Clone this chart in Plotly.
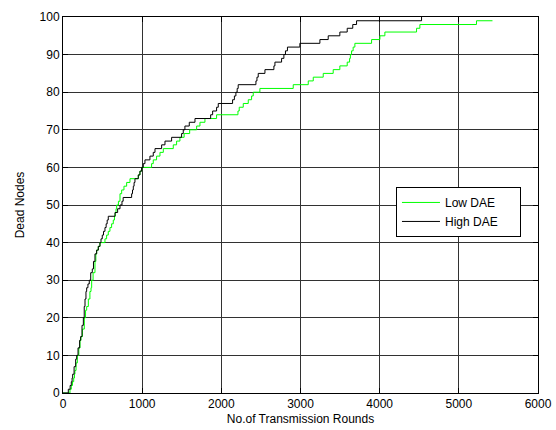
import plotly.graph_objects as go

# High DAE (black) step change points: rounds, dead nodes
high_rounds = [0, 67, 90, 105, 115, 122, 140, 160, 173, 190, 210, 223, 240, 257, 268, 278, 290, 299, 315, 332,
               350, 370, 385, 404, 425, 446, 467, 480, 496, 512, 530, 545, 558, 572, 657, 690, 720, 745, 760, 867,
               878, 888, 898, 909, 951, 972, 993, 1014, 1035, 1098, 1140, 1162, 1246, 1288, 1372, 1498, 1519, 1540,
               1595, 1667, 1865, 1890, 1940, 1961, 2142, 2165, 2184, 2200, 2213, 2437, 2450, 2466, 2551, 2664, 2677,
               2761, 2790, 2810, 2835, 2992, 3245, 3350, 3497, 3590, 3660, 3708, 4529]
high_dead = [0, 1, 2, 3, 4, 5, 7, 9, 10, 12, 14, 15, 18, 20, 23, 25, 27, 28, 29, 30,
             32, 33, 35, 37, 38, 39, 40, 41, 42, 43, 44, 45, 46, 47, 48, 49, 50, 51, 52, 53,
             54, 55, 56, 57, 58, 59, 60, 61, 62, 63, 64, 65, 66, 67, 68, 69, 70, 71,
             72, 73, 74, 75, 76, 77, 78, 79, 80, 81, 82, 83, 84, 85, 86, 87, 88,
             89, 90, 91, 92, 93, 94, 95, 96, 97, 98, 99, 100]

# Low DAE (green) step change points
low_rounds = [0, 88, 105, 120, 135, 145, 151, 165, 181, 200, 215, 227, 245, 269, 285, 299, 320, 340, 354, 362,
              380, 404, 415, 425, 445, 467, 530, 551, 572, 593, 614, 635, 650, 660, 670, 678, 700, 720, 741, 770,
              804, 846, 951, 972, 993, 1119, 1140, 1182, 1225, 1267, 1393, 1435, 1477, 1530, 1600, 1688, 1730, 1793,
              1940, 2210, 2226, 2277, 2340, 2382, 2403, 2487, 2908, 3098, 3161, 3287, 3413, 3497, 3590, 3620, 3630,
              3645, 3665, 3687, 3898, 4003, 4066, 4466, 4508, 5223, 5425]
low_dead = [0, 1, 2, 3, 4, 5, 6, 8, 10, 12, 14, 15, 17, 20, 22, 23, 25, 27, 28, 30,
            32, 35, 37, 38, 39, 40, 41, 42, 43, 44, 45, 46, 47, 48, 49, 50, 51, 53, 54, 55,
            56, 57, 58, 59, 60, 61, 62, 63, 64, 65, 66, 67, 68, 69, 70, 71, 72, 73,
            74, 75, 76, 77, 78, 79, 80, 81, 82, 83, 84, 85, 86, 87, 88, 89, 90,
            91, 92, 93, 94, 95, 96, 97, 98, 99, 99]

x_ticks = [0, 1000, 2000, 3000, 4000, 5000, 6000]
y_ticks = [0, 10, 20, 30, 40, 50, 60, 70, 80, 90, 100]

PAD = "\u00a0" * 5

fig = go.Figure()
fig.add_trace(go.Scatter(x=low_rounds, y=low_dead, mode="lines", name="Low DAE" + PAD,
                         line=dict(color="#00ff00", width=1, shape="hv")))
fig.add_trace(go.Scatter(x=high_rounds, y=high_dead, mode="lines", name="High DAE" + PAD,
                         line=dict(color="#000000", width=1, shape="hv")))

FONT = dict(family="Liberation Sans, Arial", size=12, color="black")

axis_common = dict(showline=True, linecolor="black", linewidth=1, mirror="allticks",
                   ticks="inside", ticklen=5, tickcolor="black",
                   showgrid=True, gridcolor="rgb(50,50,50)", gridwidth=1,
                   zeroline=False, tickfont=FONT, automargin=False)

fig.update_xaxes(range=[0, 6000], tickvals=x_ticks, ticktext=[str(v) for v in x_ticks],
                 title=dict(text="No.of Transmission Rounds", standoff=4, font=FONT),
                 **axis_common)
fig.update_yaxes(range=[0, 100], tickvals=y_ticks, ticktext=[str(v) for v in y_ticks],
                 title=dict(text="Dead Nodes", standoff=12, font=FONT),
                 **axis_common)

fig.update_layout(
    width=556, height=430,
    margin=dict(l=63, r=18, t=17, b=37),
    paper_bgcolor="white", plot_bgcolor="white",
    showlegend=True,
    legend=dict(x=0.701, y=0.548, xanchor="left", yanchor="top",
                bgcolor="white", bordercolor="black", borderwidth=1,
                font=FONT, itemwidth=38, tracegroupgap=0),
)

fig.write_html("out.html")
